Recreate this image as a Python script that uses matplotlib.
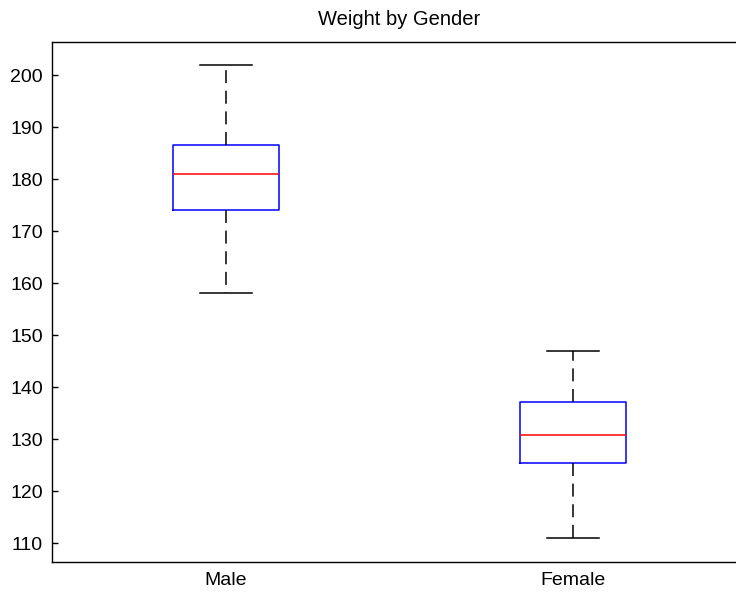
import matplotlib
matplotlib.use("Agg")
import matplotlib.pyplot as plt

plt.rcParams['font.family'] = ['Liberation Sans', 'DejaVu Sans']

categories = ["Male", "Female"]
whisker_low = [158, 111]
q1 = [174, 125.3]
median = [181, 130.8]
q3 = [186.6, 137.1]
whisker_high = [202, 147]
yticks = [110, 120, 130, 140, 150, 160, 170, 180, 190, 200]

fig = plt.figure(figsize=(7.36, 5.93), dpi=100)
ax = fig.add_axes([52/736, 31/593, 695/736, 520/593])

stats = []
for i, c in enumerate(categories):
    stats.append(dict(label=c, whislo=whisker_low[i], q1=q1[i], med=median[i],
                      q3=q3[i], whishi=whisker_high[i], fliers=[]))

ax.bxp(stats, positions=[1, 2], widths=0.305, showfliers=False,
       boxprops=dict(color='blue', linewidth=1.1),
       medianprops=dict(color='red', linewidth=1.1),
       whiskerprops=dict(color='black', linewidth=1.1, linestyle=(0, (8.5, 5))),
       capprops=dict(color='black', linewidth=1.1),
       capwidths=0.15)

ax.set_xlim(0.5, 2.5)
ax.set_ylim(106.35, 206.35)
ax.set_yticks(yticks)
ax.set_yticklabels([str(t) for t in yticks])
ax.tick_params(axis='y', direction='in', length=4.3, width=1.0, pad=6.5, labelsize=14, right=False)
ax.tick_params(axis='x', length=0, pad=7, labelsize=14, top=False)
for s in ax.spines.values():
    s.set_linewidth(1.0)
    s.set_color('black')
ax.set_title("Weight by Gender", fontsize=14.5, pad=12)

fig.savefig("out.png", dpi=100)
